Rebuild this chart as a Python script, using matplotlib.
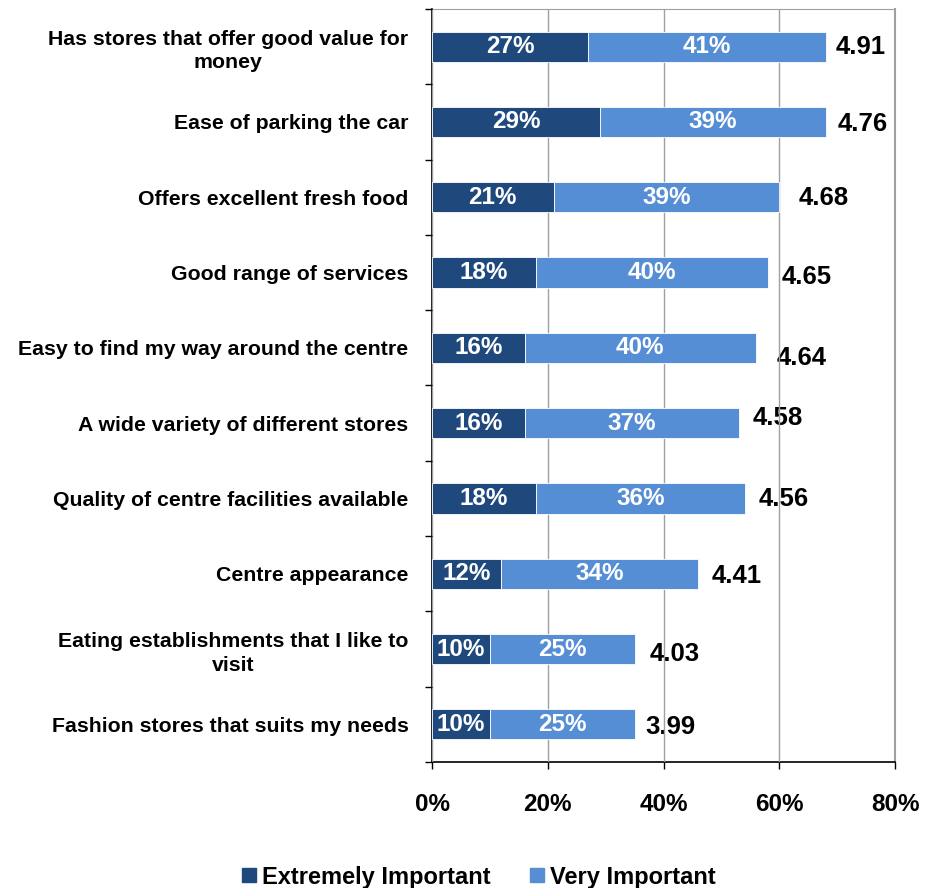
import matplotlib
matplotlib.use("Agg")
import matplotlib.pyplot as plt
from matplotlib.lines import Line2D
import numpy as np

plt.rcParams['font.family'] = ['Liberation Sans', 'DejaVu Sans']
plt.rcParams['font.weight'] = 'bold'

categories = [
    "Has stores that offer good value for\nmoney",
    "Ease of parking the car",
    "Offers excellent fresh food",
    "Good range of services",
    "Easy to find my way around the centre",
    "A wide variety of different stores",
    "Quality of centre facilities available",
    "Centre appearance",
    "Eating establishments that I like to\nvisit",
    "Fashion stores that suits my needs",
]
extremely_important = [27, 29, 21, 18, 16, 16, 18, 12, 10, 10]
very_important = [41, 39, 39, 40, 40, 37, 36, 34, 25, 25]
mean_scores = ["4.91", "4.76", "4.68", "4.65", "4.64", "4.58", "4.56", "4.41", "4.03", "3.99"]
x_ticks = [0, 20, 40, 60, 80]
series_names = ["Extremely Important", "Very Important"]

# score label nudges (points): right of bar end, vertical shift
score_dx = [7, 9, 14, 10, 15, 10, 10, 10, 11, 8]
score_dy = [0, -1.5, -0.5, -3.5, -7, 3.5, -0.5, -1.5, -3.5, -1.8]

dark = "#1F497D"
light = "#558ED5"

fig = plt.figure(figsize=(9.4, 8.88), dpi=100)
ax = fig.add_axes([432/940, 1-762/888, (895-432)/940, (762-9)/888])

n = len(categories)
y = np.arange(n)
ext = np.array(extremely_important)
vi = np.array(very_important)

ax.barh(y, ext, height=0.4, color=dark, edgecolor='white', linewidth=0.6, zorder=3)
ax.barh(y, vi, left=ext, height=0.4, color=light, edgecolor='white', linewidth=0.6, zorder=3)

for i in range(n):
    ax.text(ext[i]/2, y[i], f"{ext[i]}%", ha='center', va='center', color='white',
            fontsize=17.5, fontweight='bold', zorder=4)
    ax.text(ext[i] + vi[i]/2, y[i], f"{vi[i]}%", ha='center', va='center', color='white',
            fontsize=17.5, fontweight='bold', zorder=4)
    ax.annotate(mean_scores[i], xy=(ext[i] + vi[i], y[i]),
                xytext=(score_dx[i], score_dy[i]), textcoords='offset points',
                ha='left', va='center', fontsize=18.5, fontweight='bold', color='black', zorder=1)

ax.set_xlim(0, 80)
ax.set_ylim(n - 0.5, -0.5)
ax.set_xticks(x_ticks)
ax.set_xticklabels([f"{t}%" for t in x_ticks], fontsize=17.5, fontweight='bold')
ax.tick_params(axis='x', direction='out', length=5, width=1, pad=17, color='black')

ax.set_yticks(y)
ax.set_yticklabels(categories, fontsize=15.3, fontweight='bold', ha='right',
                   multialignment='center', linespacing=1.3)
ax.tick_params(axis='y', which='major', length=0, pad=17)
ax.set_yticks(np.arange(-0.5, n, 1), minor=True)
ax.tick_params(axis='y', which='minor', direction='out', length=5, width=1, color='black')

# gridlines sit above the score labels but beneath the bars
ax.set_axisbelow(False)
ax.grid(axis='x', color='#A0A0A0', linewidth=1)
for gl in ax.get_xgridlines():
    gl.set_zorder(2)
ax.spines['left'].set_color('black')
ax.spines['bottom'].set_color('black')
ax.spines['left'].set_linewidth(1.2)
ax.spines['bottom'].set_linewidth(1.2)
ax.spines['top'].set_color('#A0A0A0')
ax.spines['right'].set_color('#A0A0A0')
ax.spines['right'].set_linewidth(1.5)

handles = [Line2D([], [], marker='s', linestyle='none', markersize=10, color=dark),
           Line2D([], [], marker='s', linestyle='none', markersize=10, color=light)]
fig.legend(handles, series_names, loc='center', bbox_to_anchor=(478/940, 1-877/888),
           ncol=2, frameon=False, prop={'size': 17, 'weight': 'bold'},
           handletextpad=0.2, columnspacing=1.6, handlelength=0.7)

fig.savefig("out.png", dpi=100)
